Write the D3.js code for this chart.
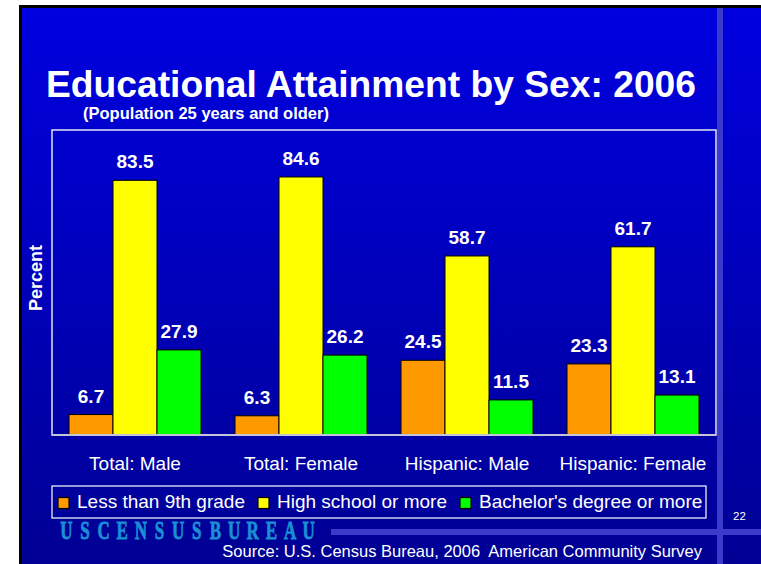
<!DOCTYPE html>
<html>
<head>
<meta charset="utf-8">
<script src="https://cdn.jsdelivr.net/npm/d3@7"></script>
<style>
html,body{margin:0;padding:0;background:#fff;}
svg{display:block;}
text{font-family:Arial,"Liberation Sans",sans-serif;}
</style>
</head>
<body>
<svg id="chart" width="761" height="564"></svg>
<script>
const categories = ["Total: Male", "Total: Female", "Hispanic: Male", "Hispanic: Female"];
const seriesNames = ["Less than 9th grade", "High school or more", "Bachelor's degree or more"];
const lessThan9th = [6.7, 6.3, 24.5, 23.3];
const highSchool = [83.5, 84.6, 58.7, 61.7];
const bachelors = [27.9, 26.2, 11.5, 13.1];
const seriesColors = ["#ff9900", "#ffff00", "#00ff00"];
const titleText = "Educational Attainment by Sex: 2006";
const subtitleText = "(Population 25 years and older)";
const yLabel = "Percent";
const sourceText = "Source: U.S. Census Bureau, 2006\u00a0 American Community Survey";
const logoLetters = "USCENSUSBUREAU".split("");
const pageNumber = "22";

const seriesValues = [lessThan9th, highSchool, bachelors];
const svg = d3.select("#chart");

// background
const defs = svg.append("defs");
const grad = defs.append("linearGradient").attr("id", "bg").attr("x1", 0).attr("y1", 0).attr("x2", 0).attr("y2", 1);
grad.append("stop").attr("offset", "0%").attr("stop-color", "#0000e0");
grad.append("stop").attr("offset", "100%").attr("stop-color", "#000094");

svg.append("rect").attr("x", 19).attr("y", 5).attr("width", 742).attr("height", 559).attr("fill", "#000");
svg.append("rect").attr("x", 22).attr("y", 8).attr("width", 739).attr("height", 556).attr("fill", "url(#bg)");

// decorative stripes
svg.append("rect").attr("x", 331).attr("y", 529).attr("width", 430).attr("height", 6).attr("fill", "#3a3acb");
svg.append("rect").attr("x", 717).attr("y", 8).attr("width", 6).attr("height", 556).attr("fill", "#3a3acb");

// title
svg.append("text").attr("x", 46).attr("y", 97).attr("fill", "#fff")
  .attr("font-size", 37).attr("font-weight", "bold")
  .attr("textLength", 650).attr("lengthAdjust", "spacingAndGlyphs").text(titleText);
svg.append("text").attr("x", 83).attr("y", 119).attr("fill", "#fff")
  .attr("font-size", 16.5).attr("font-weight", "bold")
  .attr("textLength", 246).attr("lengthAdjust", "spacingAndGlyphs").text(subtitleText);

// scales
const x0 = d3.scaleBand().domain(categories).range([52, 716]);
const x1 = d3.scaleBand().domain(seriesNames).range([17, 149]);
const y = d3.scaleLinear().domain([0, 100]).range([435, 130]);

// plot frame
svg.append("rect").attr("x", 52).attr("y", 130).attr("width", 664).attr("height", 305)
  .attr("fill", "none").attr("stroke", "#e4e4f0").attr("stroke-width", 1.5);

// bars
const groups = svg.append("g").selectAll("g").data(categories).join("g")
  .attr("transform", d => `translate(${x0(d)},0)`);

const barData = (cat, ci) => seriesNames.map((s, si) => ({ s, si, v: seriesValues[si][ci] }));

groups.each(function(cat, ci) {
  const g = d3.select(this);
  const data = barData(cat, ci);
  g.selectAll("rect").data(data).join("rect")
    .attr("x", d => x1(d.s)).attr("width", x1.bandwidth())
    .attr("y", d => y(d.v)).attr("height", d => y(0) - y(d.v))
    .attr("fill", d => seriesColors[d.si]).attr("stroke", "#000").attr("stroke-width", 1);
  g.selectAll("text").data(data).join("text")
    .attr("x", d => x1(d.s) + x1.bandwidth() / 2).attr("y", d => y(d.v) - 12)
    .attr("text-anchor", "middle").attr("fill", "#fff")
    .attr("font-size", 19).attr("font-weight", "bold")
    .text(d => d.v.toFixed(1));
});

// x axis line
svg.append("line").attr("x1", 52).attr("x2", 716).attr("y1", 435).attr("y2", 435)
  .attr("stroke", "#c4c4d8").attr("stroke-width", 2);

// category labels
const xAxis = d3.axisBottom(x0).tickSize(0).tickPadding(0);
const ax = svg.append("g").attr("transform", "translate(0,456)").call(xAxis);
ax.select(".domain").remove();
ax.selectAll("text").attr("fill", "#fff").attr("font-size", 19)
  .attr("font-family", "Arial, 'Liberation Sans', sans-serif").attr("dy", "0.71em");

// y label
svg.append("text").attr("transform", "translate(42,278) rotate(-90)")
  .attr("text-anchor", "middle").attr("fill", "#fff")
  .attr("font-size", 18).attr("font-weight", "bold").text(yLabel);

// legend
svg.append("rect").attr("x", 52).attr("y", 486).attr("width", 654).attr("height", 32)
  .attr("fill", "none").attr("stroke", "#fff").attr("stroke-width", 1.2);
let lx = 58;
seriesNames.forEach((s, i) => {
  svg.append("rect").attr("x", lx).attr("y", 497.5).attr("width", 11).attr("height", 11)
    .attr("fill", seriesColors[i]).attr("stroke", "#000").attr("stroke-width", 1.2);
  const t = svg.append("text").attr("x", lx + 19).attr("y", 508).attr("fill", "#fff")
    .attr("font-size", 19).text(s);
  lx = lx + 19 + t.node().getComputedTextLength() + 13;
});

// logo
const logoX = d3.scaleBand().domain(d3.range(logoLetters.length)).range([57, 318]);
svg.append("g").selectAll("text").data(logoLetters).join("text")
  .attr("transform", (d, i) => `translate(${logoX(i) + logoX.bandwidth() / 2},539) scale(0.68,1)`)
  .attr("text-anchor", "middle").attr("fill", "#1a90d4")
  .attr("stroke", "#1a90d4").attr("stroke-width", 0.8)
  .style("font-family", "'Liberation Serif', 'DejaVu Serif', serif").attr("font-weight", "bold").attr("font-size", 25)
  .text(d => d);

// source
svg.append("text").attr("x", 702).attr("y", 557).attr("text-anchor", "end").attr("fill", "#fff")
  .attr("font-size", 16.5).text(sourceText);

// page number
svg.append("text").attr("x", 733).attr("y", 520).attr("fill", "#fff")
  .attr("font-size", 11.5).text(pageNumber);
</script>
</body>
</html>
